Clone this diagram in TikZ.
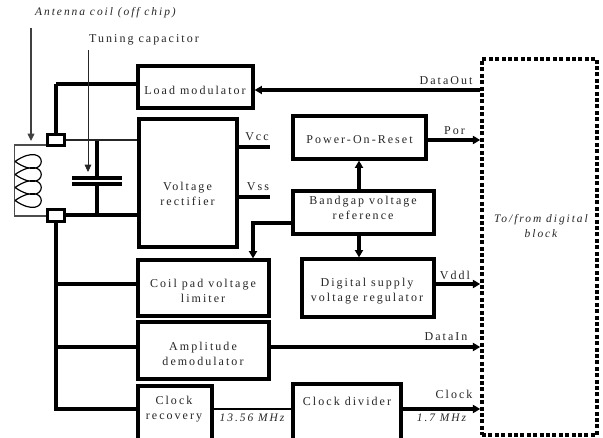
\documentclass[tikz,border=0pt]{standalone}
\usepackage{fontspec}
\setmainfont{Liberation Serif}
\newfontfamily\spc[LetterSpace=17]{Liberation Serif}
\usetikzlibrary{arrows.meta}
\tikzset{
  x=0.75pt,y=-0.75pt,
  block/.style={draw=black,line width=2.4pt,fill=white,inner sep=0pt},
  lbl/.style={font=\spc\fontsize{9pt}{11.3pt}\selectfont,align=center,inner sep=0pt,text=black!85},
  ilbl/.style={font=\spc\itshape\fontsize{8.6pt}{11.3pt}\selectfont,align=center,inner sep=0pt,text=black!85},
  wire/.style={draw=black,line width=2.4pt},
  thin wire/.style={draw=black!70,line width=0.9pt},
  arrowed/.style={wire,-{Triangle[length=5.5pt,width=6pt]}},
  pad/.style={draw=black,line width=2.4pt,fill=white,minimum width=13pt,minimum height=8.5pt,inner sep=0pt},
}
\newcommand{\boxat}[5]{\node[block,minimum width=#4*0.75pt-#2*0.75pt,minimum height=#5*0.75pt-#3*0.75pt] (#1) at ({(#2+#4)/2},{(#3+#5)/2}) {};}
\newcommand{\lobe}[1]{(15,#1) .. controls (50,#1-24) and (50,#1+24) .. (15,#1)}
\begin{document}
\begin{tikzpicture}
\useasboundingbox (0,0) rectangle (603,438);
\clip (0,0) rectangle (603,438);
\fill[white] (0,0) rectangle (603,438);
% coordinates
\coordinate (cl1) at (14.5,145);
\coordinate (cl2) at (14.5,216);
\coordinate (ct) at (97,141);
\coordinate (cb) at (97,215);
\coordinate (p1) at (97,178);
\coordinate (p2) at (97,184);
\coordinate (pl1) at (72,178);
\coordinate (pr1) at (122,178);
\coordinate (pl2) at (72,184);
\coordinate (pr2) at (122,184);
\coordinate (aa) at (31,28);
\coordinate (ab) at (31,141);
\coordinate (ta) at (88,50);
\coordinate (tb) at (88,172);
\coordinate (v1) at (270,147);
\coordinate (v2) at (270,197);
\coordinate (jl) at (56,84);
\coordinate (j1) at (56,284);
\coordinate (j2) at (56,347);
\coordinate (j3) at (56,409);
\coordinate (bgk) at (253,223);
% blocks
\boxat{load}{138}{66}{253}{108}
\boxat{rect}{139}{119}{237}{247}
\boxat{coil}{138}{260}{269}{316}
\boxat{amp}{138}{322}{269}{379}
\boxat{rec}{138}{386}{212}{460}
\boxat{div}{293}{384}{401}{460}
\boxat{por}{293}{116}{426}{159}
\boxat{bg}{293}{191}{434}{234}
\boxat{reg}{302}{259}{434}{317}
\node[draw=black,line width=2.6pt,dash pattern=on 3pt off 1.8pt,minimum width=115*0.75pt,minimum height=376*0.75pt,inner sep=0pt] (dig) at (539.5,247) {};
% wires
\draw[thin wire] (cl1 -| 46,0) -- (cl1) -- (cl2) -- (cl2 -| 46,0);
\draw[black,line width=0.9pt] \lobe{161.5} \lobe{174.5} \lobe{187.5} \lobe{200.5};
\draw[draw=black!85,line width=1.5pt] (66,140.5) -- (rect.west |- 0,140.5);
\draw[wire] (66,215) -- (rect.west |- 0,215);
\draw[wire] (ct) -- (p1);
\draw[wire] (p2) -- (cb);
\draw[wire] (pl1) -- (pr1);
\draw[wire] (pl2) -- (pr2);
\draw[wire] (56,134) -- (jl);
\draw[wire] (jl) -- (load.west |- jl);
\draw[wire] (56,221) -- (j3) -- (j3 -| rec.west);
\draw[wire] (j1) -- (j1 -| coil.west);
\draw[wire] (j2) -- (j2 -| amp.west);
\node[pad] (padt) at (56,140) {};
\node[pad] (padb) at (56,215.5) {};
\draw[black!75,line width=1pt,-{Triangle[length=5.5pt,width=5pt]}] (aa) -- (ab);
\draw[black!85,line width=0.6pt,-{Triangle[length=5.5pt,width=5pt]}] (ta) -- (tb);
\draw[arrowed] (dig.west |- 0,90) -- (load.east |- 0,90);
\draw[wire] (rect.east |- v1) -- (v1);
\draw[wire] (rect.east |- v2) -- (v2);
\draw[arrowed] (bg.west |- bgk) -- (bgk) -- (bgk |- coil.north);
\draw[arrowed] (bg.north -| 359,0) -- (por.south -| 359,0);
\draw[arrowed] (bg.south -| 359,0) -- (reg.north -| 359,0);
\draw[arrowed] (por.east |- 0,140) -- (dig.west |- 0,140);
\draw[arrowed] (reg.east |- 0,284) -- (dig.west |- 0,284);
\draw[arrowed] (amp.east |- 0,347) -- (dig.west |- 0,347);
\draw[arrowed] (div.east |- 0,409) -- (dig.west |- 0,409);
\draw[wire,line width=1.8pt] (rec.east |- 0,409) -- (div.west |- 0,409);
% labels
\node[ilbl] (t1) at (105.5,12.5) {Antenna coil (off chip)};
\node[lbl] (t2) at (144,40) {Tuning capacitor};
\node[lbl] at (195,90) {Load modulator};
\node[lbl] at (187.5,193.5) {Voltage\\rectifier};
\node[lbl] at (203,290.5) {Coil pad voltage\\limiter};
\node[lbl] at (203,353.5) {Amplitude\\demodulator};
\node[lbl] at (174,409) {Clock\\recovery};
\node[lbl] at (347,401) {Clock divider};
\node[lbl] at (359.5,140) {Power-On-Reset};
\node[lbl] at (363,207.5) {Bandgap voltage\\reference};
\node[lbl] at (367,291) {Digital supply\\voltage regulator};
\node[lbl] at (257,137) {Vcc};
\node[lbl] at (258,187) {Vss};
\node[lbl] at (446,81) {DataOut};
\node[lbl] at (454.5,131) {Por};
\node[lbl] at (455,275) {Vddl};
\node[lbl] at (446,337) {DataIn};
\node[lbl] at (454,394) {Clock};
\node[ilbl] at (252,418) {13.56 MHz};
\node[ilbl] at (441.5,418) {1.7 MHz};
\node[ilbl] at (541,226) {To/from digital\\block};
\end{tikzpicture}
\end{document}
